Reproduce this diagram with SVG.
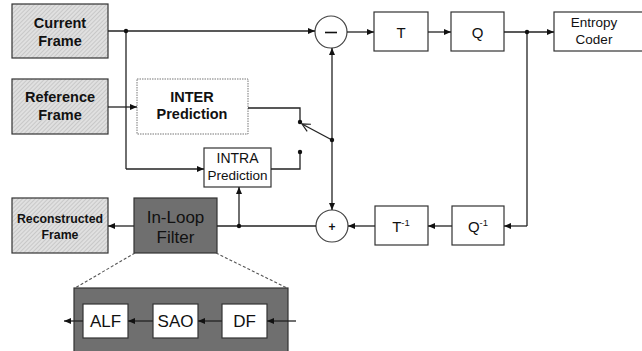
<svg xmlns="http://www.w3.org/2000/svg" width="642" height="351" viewBox="0 0 642 351">
<defs>
<pattern id="hatch" width="3" height="3" patternUnits="userSpaceOnUse" patternTransform="rotate(45)">
<rect width="3" height="3" fill="#e0e0e0"/>
<line x1="0" y1="0" x2="0" y2="3" stroke="#ababab" stroke-width="0.9"/>
</pattern>
<marker id="ah" markerWidth="7" markerHeight="6" refX="7" refY="3" orient="auto" markerUnits="userSpaceOnUse">
<path d="M0,0 L7,3 L0,6 z" fill="#111"/>
</marker>
<marker id="open" markerWidth="10" markerHeight="10" refX="9" refY="5" orient="auto" markerUnits="userSpaceOnUse">
<path d="M1,1 L9,5 L1,9" fill="none" stroke="#222" stroke-width="1.2"/>
</marker>
</defs>
<style>
.frame{fill:url(#hatch);stroke:#333;stroke-width:1.2}
.box{fill:#fff;stroke:#333;stroke-width:1.2}
.dark{fill:#6f6f6f;stroke:#333;stroke-width:1.2}
.ln{fill:none;stroke:#222;stroke-width:1.3}
.arr{fill:none;stroke:#222;stroke-width:1.3;marker-end:url(#ah)}
.dot{fill:#111}
.b{font-family:"Liberation Sans",Arial,sans-serif;font-weight:bold;fill:#111;text-anchor:middle}
.r{font-family:"Liberation Sans",Arial,sans-serif;fill:#111;text-anchor:middle}
</style>

<g id="current-frame">
<rect class="frame" x="12" y="4" width="96" height="54"/>
<text class="b" x="60" y="28" font-size="14.5">Current</text>
<text class="b" x="60" y="46" font-size="14.5">Frame</text>
</g>
<g id="reference-frame">
<rect class="frame" x="12" y="79" width="96" height="55"/>
<text class="b" x="60" y="102" font-size="14.5">Reference</text>
<text class="b" x="60" y="120" font-size="14.5">Frame</text>
</g>
<g id="reconstructed-frame">
<rect class="frame" x="12" y="198" width="96" height="55"/>
<text class="b" x="60" y="223" font-size="12.3">Reconstructed</text>
<text class="b" x="60" y="239" font-size="12.3">Frame</text>
</g>
<g id="inter-prediction">
<rect x="137" y="79" width="111" height="55" fill="#fff" stroke="#777" stroke-width="1" stroke-dasharray="1.5,1"/>
<text class="b" x="192" y="102" font-size="14.5">INTER</text>
<text class="b" x="192" y="119" font-size="14.5">Prediction</text>
</g>
<g id="intra-prediction">
<rect class="box" x="204" y="148" width="67" height="39"/>
<text class="r" x="237.5" y="163" font-size="14">INTRA</text>
<text class="r" x="237.5" y="180" font-size="13.5">Prediction</text>
</g>
<g id="subtract">
<circle cx="331" cy="32" r="16" fill="#fff" stroke="#444" stroke-width="1.2"/>
<line x1="325" y1="32.5" x2="337" y2="32.5" stroke="#111" stroke-width="1.6"/>
</g>
<g id="add">
<circle cx="332" cy="226" r="16" fill="#fff" stroke="#444" stroke-width="1.2"/>
<text class="b" x="332" y="230.5" font-size="12">+</text>
</g>
<g id="t">
<rect class="box" x="374" y="12" width="54" height="39"/>
<text class="r" x="401" y="38" font-size="15">T</text>
</g>
<g id="q">
<rect class="box" x="451" y="12" width="53" height="39"/>
<text class="r" x="477.5" y="38" font-size="15">Q</text>
</g>
<g id="entropy-coder">
<rect class="box" x="554" y="12" width="90" height="39"/>
<text class="r" x="594" y="27" font-size="13.5">Entropy</text>
<text class="r" x="594" y="44" font-size="13.5">Coder</text>
</g>
<g id="t-inv">
<rect class="box" x="375" y="206" width="53" height="39"/>
<text class="r" x="401" y="232" font-size="15">T<tspan font-size="9.5" dy="-6">-1</tspan></text>
</g>
<g id="q-inv">
<rect class="box" x="452" y="206" width="52" height="39"/>
<text class="r" x="478" y="232" font-size="15">Q<tspan font-size="9.5" dy="-6">-1</tspan></text>
</g>
<g id="in-loop-filter">
<rect class="dark" x="134" y="198" width="83" height="55"/>
<text class="r" x="175.5" y="223" font-size="17" fill="#1a1a1a">In-Loop</text>
<text class="r" x="175.5" y="243" font-size="17" fill="#1a1a1a">Filter</text>
</g>
<g id="filter-detail">
<rect class="dark" x="74" y="288" width="214" height="64"/>
</g>
<g id="alf">
<rect class="box" x="83" y="304" width="45" height="34"/>
<text class="r" x="105.5" y="327" font-size="17">ALF</text>
</g>
<g id="sao">
<rect class="box" x="153" y="304" width="45" height="34"/>
<text class="r" x="175.5" y="327" font-size="17">SAO</text>
</g>
<g id="df">
<rect class="box" x="222" y="304" width="45" height="34"/>
<text class="r" x="244.5" y="327" font-size="17">DF</text>
</g>

<g id="connectors">
<path class="arr" d="M108,31 H315"/>
<path class="ln" d="M126,31 V169"/>
<path class="arr" d="M126,169 H204"/>
<path class="arr" d="M108,107 H137"/>
<path class="arr" d="M347,32 H374"/>
<path class="arr" d="M428,32 H451"/>
<path class="arr" d="M504,32 H554"/>
<path class="ln" d="M527,32 V226"/>
<path class="arr" d="M527,226 H504"/>
<path class="arr" d="M452,226 H428"/>
<path class="arr" d="M375,226 H348"/>
<path class="ln" d="M316,226 H217"/>
<path class="arr" d="M239,226 V187"/>
<path class="arr" d="M134,226 H108"/>
<path class="arr" d="M332,140 V48"/>
<path class="arr" d="M332,140 V210"/>
<path class="ln" d="M248,108 H300 V122"/>
<path class="ln" d="M271,169 H300 V152"/>
<path class="ln" d="M332,140 L302,124" marker-end="url(#open)"/>
<path d="M135,253 L75,288 M216,253 L287,288" fill="none" stroke="#555" stroke-width="1.1" stroke-dasharray="3,2"/>
<path class="arr" d="M296,321 H267"/>
<path class="arr" d="M222,321 H198"/>
<path class="arr" d="M153,321 H128"/>
<path class="arr" d="M83,321 H64"/>
<circle class="dot" cx="126" cy="31" r="2.2"/>
<circle class="dot" cx="527" cy="32" r="2.2"/>
<circle class="dot" cx="332" cy="140" r="2.2"/>
<circle class="dot" cx="300" cy="122" r="2.2"/>
<circle class="dot" cx="300" cy="152" r="2.2"/>
<circle class="dot" cx="239" cy="226" r="2.2"/>
</g>
</svg>
